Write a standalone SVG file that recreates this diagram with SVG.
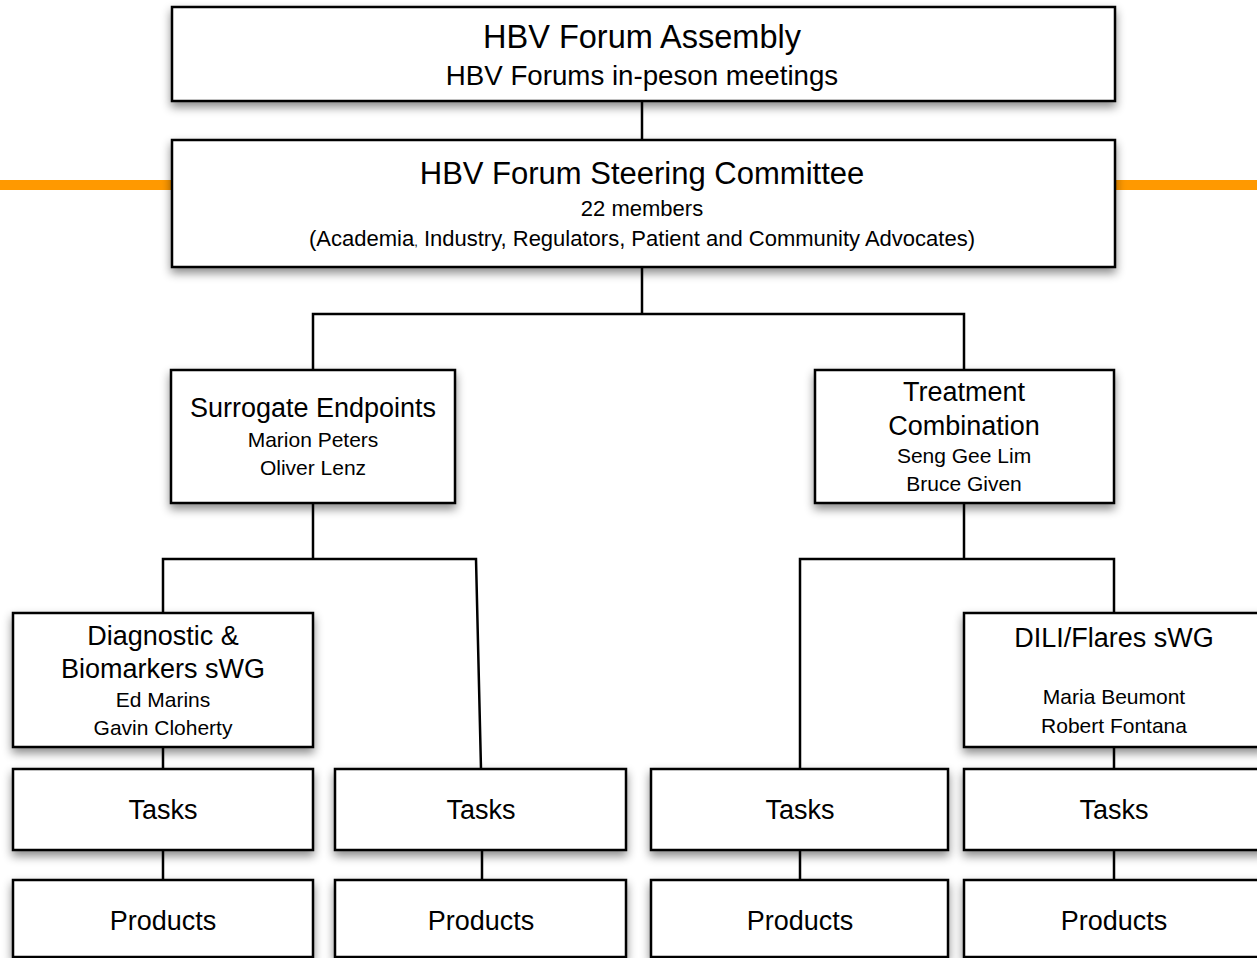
<svg xmlns="http://www.w3.org/2000/svg" width="1257" height="958" viewBox="0 0 1257 958">
  <defs>
    <filter id="shadow" x="-10%" y="-20%" width="120%" height="150%">
      <feDropShadow dx="0" dy="5" stdDeviation="5" flood-color="#000" flood-opacity="0.45"/>
    </filter>
  </defs>
  <style>
    .box { fill: #ffffff; stroke: #000000; stroke-width: 2.5; filter: url(#shadow); }
    .t { font-family: "Liberation Sans", Arial, Helvetica, sans-serif; fill: #000000; text-anchor: middle; }
    .big { font-size: 31px; }
    .mid { font-size: 27px; }
    .sub { font-size: 22px; }
    .name { font-size: 21px; }
    .conn { stroke: #000000; stroke-width: 2.5; fill: none; }
    .accent { stroke: #FF9900; stroke-width: 10; fill: none; }
  </style>
  <rect width="1257" height="958" fill="#ffffff"/>

  <g id="accent-line">
    <line class="accent" x1="0" y1="185" x2="172" y2="185"/>
    <line class="accent" x1="1115" y1="185" x2="1257" y2="185"/>
  </g>

  <g id="assembly">
    <rect class="box" x="172" y="7" width="943" height="94"/>
    <text class="t" style="font-size:32.5px" x="642" y="48">HBV Forum Assembly</text>
    <text class="t" style="font-size:27.7px" x="642" y="85">HBV Forums in-peson meetings</text>
  </g>

  <g id="steering">
    <rect class="box" x="172" y="140" width="943" height="127"/>
    <text class="t big" x="642" y="184">HBV Forum Steering Committee</text>
    <text class="t sub" x="642" y="216">22 members</text>
    <text class="t sub" x="642" y="246">(Academia<tspan font-size="13">,</tspan> Industry, Regulators, Patient and Community Advocates)</text>
  </g>

  <g id="surrogate">
    <rect class="box" x="171" y="370" width="284" height="133"/>
    <text class="t mid" x="313" y="417">Surrogate Endpoints</text>
    <text class="t name" x="313" y="447">Marion Peters</text>
    <text class="t name" x="313" y="475">Oliver Lenz</text>
  </g>

  <g id="treatment">
    <rect class="box" x="815" y="370" width="299" height="133"/>
    <text class="t mid" x="964" y="401">Treatment</text>
    <text class="t mid" x="964" y="435">Combination</text>
    <text class="t name" x="964" y="463">Seng Gee Lim</text>
    <text class="t name" x="964" y="491">Bruce Given</text>
  </g>

  <g id="diagnostic">
    <rect class="box" x="13" y="613" width="300" height="134"/>
    <text class="t mid" x="163" y="645">Diagnostic &amp;</text>
    <text class="t mid" x="163" y="678">Biomarkers sWG</text>
    <text class="t name" x="163" y="707">Ed Marins</text>
    <text class="t name" x="163" y="735">Gavin Cloherty</text>
  </g>

  <g id="dili">
    <rect class="box" x="964" y="613" width="300" height="134"/>
    <text class="t mid" x="1114" y="647">DILI/Flares sWG</text>
    <text class="t name" x="1114" y="704">Maria Beumont</text>
    <text class="t name" x="1114" y="733">Robert Fontana</text>
  </g>

  <g id="tasks-1">
    <rect class="box" x="13" y="769" width="300" height="81"/>
    <text class="t mid" x="163" y="819">Tasks</text>
  </g>
  <g id="tasks-2">
    <rect class="box" x="335" y="769" width="291" height="81"/>
    <text class="t mid" x="481" y="819">Tasks</text>
  </g>
  <g id="tasks-3">
    <rect class="box" x="651" y="769" width="297" height="81"/>
    <text class="t mid" x="800" y="819">Tasks</text>
  </g>
  <g id="tasks-4">
    <rect class="box" x="964" y="769" width="300" height="81"/>
    <text class="t mid" x="1114" y="819">Tasks</text>
  </g>

  <g id="products-1">
    <rect class="box" x="13" y="880" width="300" height="77"/>
    <text class="t mid" x="163" y="930">Products</text>
  </g>
  <g id="products-2">
    <rect class="box" x="335" y="880" width="291" height="77"/>
    <text class="t mid" x="481" y="930">Products</text>
  </g>
  <g id="products-3">
    <rect class="box" x="651" y="880" width="297" height="77"/>
    <text class="t mid" x="800" y="930">Products</text>
  </g>
  <g id="products-4">
    <rect class="box" x="964" y="880" width="300" height="77"/>
    <text class="t mid" x="1114" y="930">Products</text>
  </g>

  <g id="connectors">
    <line class="conn" x1="642" y1="101" x2="642" y2="140"/>
    <polyline class="conn" points="642,267 642,314"/>
    <polyline class="conn" points="313,370 313,314 964,314 964,370"/>
    <line class="conn" x1="313" y1="503" x2="313" y2="559"/>
    <polyline class="conn" points="163,613 163,559 476,559 481,769"/>
    <line class="conn" x1="964" y1="503" x2="964" y2="559"/>
    <polyline class="conn" points="800,769 800,559 1114,559 1114,613"/>
    <line class="conn" x1="163" y1="747" x2="163" y2="769"/>
    <line class="conn" x1="1114" y1="747" x2="1114" y2="769"/>
    <line class="conn" x1="163" y1="850" x2="163" y2="880"/>
    <line class="conn" x1="482" y1="850" x2="482" y2="880"/>
    <line class="conn" x1="800" y1="850" x2="800" y2="880"/>
    <line class="conn" x1="1114" y1="850" x2="1114" y2="880"/>
  </g>
</svg>
